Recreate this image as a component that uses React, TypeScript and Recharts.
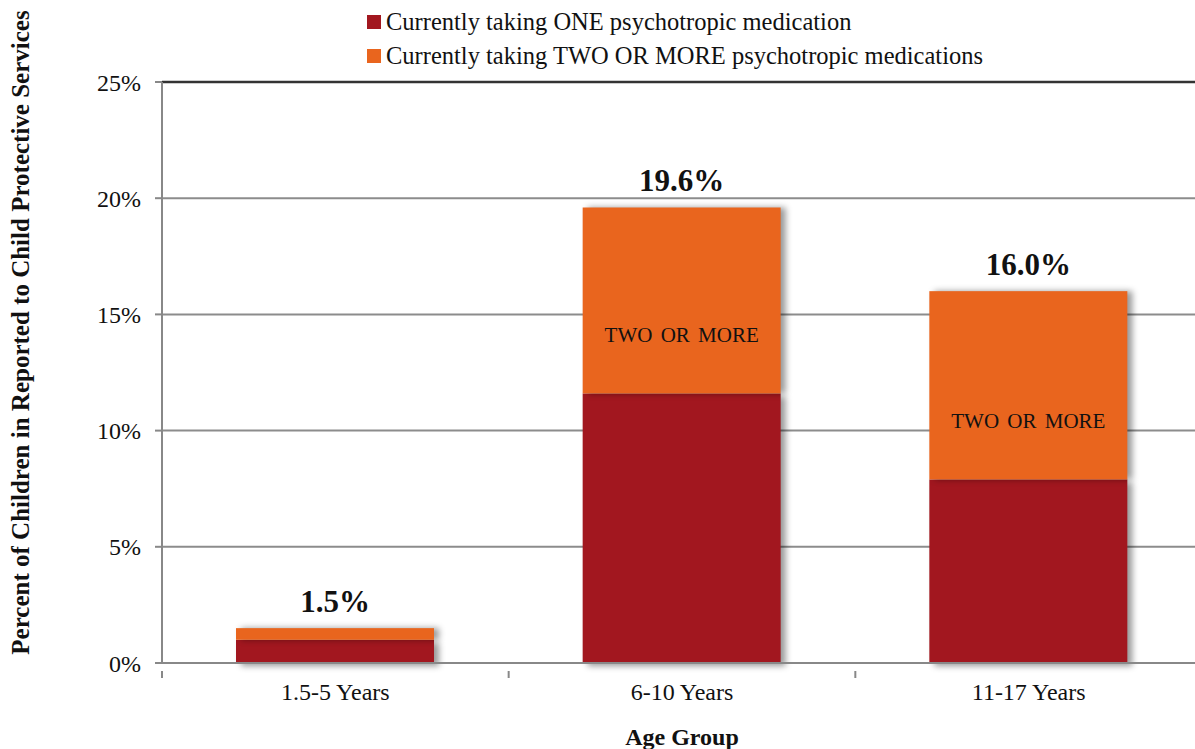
import React from "react";
import {
  Bar,
  BarChart,
  CartesianGrid,
  LabelList,
  Legend,
  ReferenceLine,
  XAxis,
  YAxis,
} from "recharts";

const ageGroups = ["1.5-5 Years", "6-10 Years", "11-17 Years"];
const oneMed = [1.0, 11.6, 7.9];
const twoPlusMed = [0.5, 8.0, 8.1];
const totals = [1.5, 19.6, 16.0];
const innerLabels = ["", "TWO OR MORE", "TWO OR MORE"];
const yTicks = [0, 5, 10, 15, 20, 25];

const seriesNames = [
  "Currently taking ONE psychotropic medication",
  "Currently taking TWO OR MORE psychotropic medications",
];

const RED = "#A2171F";
const ORANGE = "#E9651E";
const FONT = "'Liberation Serif', serif";

const data = ageGroups.map((g, i) => ({
  group: g,
  one: oneMed[i],
  two: twoPlusMed[i],
  total: totals[i],
  inner: innerLabels[i],
}));

const BAND = 1040 / 3;

const shadowShape = (fill: string, shadow: string) => (p: any) => (
  <rect
    x={p.x}
    y={p.y}
    width={p.width}
    height={p.height}
    fill={fill}
    style={{ filter: shadow }}
  />
);

const XTick = (p: any) => {
  const { x, y, payload, index } = p;
  return (
    <g>
      <line x1={x - BAND / 2} x2={x - BAND / 2} y1={y} y2={y + 7} stroke="#888" strokeWidth={2} />
      {index === ageGroups.length - 1 && (
        <line x1={x + BAND / 2} x2={x + BAND / 2} y1={y} y2={y + 7} stroke="#888" strokeWidth={2} />
      )}
      <text x={x} y={y + 29} textAnchor="middle" fontSize={24} fill="#111" fontFamily={FONT}>
        {payload.value}
      </text>
    </g>
  );
};

const InnerLabel = (p: any) => {
  const { x, y, width, height, value } = p;
  if (!value) return null;
  return (
    <text
      x={x + width / 2}
      y={y + height * 0.7}
      textAnchor="middle"
      dominantBaseline="middle"
      fontSize={21}
      fill="#111"
      fontFamily={FONT}
      style={{ wordSpacing: 3 }}
    >
      {value}
    </text>
  );
};

const LegendBox = () => (
  <div style={{ fontFamily: FONT, fontSize: 24.5, color: "#111", lineHeight: "34px" }}>
    {seriesNames.map((n, i) => (
      <div key={n} style={{ display: "flex", alignItems: "center", whiteSpace: "nowrap" }}>
        <span
          style={{
            display: "inline-block",
            width: 14,
            height: 14,
            background: i === 0 ? RED : ORANGE,
            marginRight: 5,
          }}
        />
        {n}
      </div>
    ))}
  </div>
);

export default function App() {
  return (
    <div style={{ position: "absolute", left: 0, top: 0, width: 1195, height: 749, overflow: "hidden", background: "#fff" }}>
      <BarChart
        width={1202}
        height={749}
        data={data}
        margin={{ top: 82, right: 0, bottom: 0, left: 0 }}
        barSize={198}
        style={{ fontFamily: FONT }}
      >
        <CartesianGrid vertical={false} stroke="#8c8c8c" strokeWidth={2} />
        <ReferenceLine y={25} stroke="#333" strokeWidth={2.5} />
        <XAxis
          dataKey="group"
          height={86}
          tickLine={false}
          axisLine={{ stroke: "#888", strokeWidth: 2 }}
          tick={<XTick />}
          interval={0}
          label={{
            value: "Age Group",
            position: "insideBottom",
            offset: 4,
            fontSize: 24,
            fontWeight: "bold",
            fill: "#111",
            fontFamily: FONT,
          }}
        />
        <YAxis
          width={162}
          domain={[0, 25]}
          ticks={yTicks}
          tickFormatter={(v) => `${v}%`}
          tickSize={7}
          tickMargin={14}
          tickLine={{ stroke: "#888", strokeWidth: 2 }}
          axisLine={{ stroke: "#888", strokeWidth: 2 }}
          tick={{ fontSize: 24, fill: "#111", fontFamily: FONT }}
          label={{
            value: "Percent of Children in Reported to Child Protective Services",
            angle: -90,
            position: "insideLeft",
            offset: 0,
            dx: 20,
            dy: -40,
            style: { textAnchor: "middle" },
            fontSize: 25,
            fontWeight: "bold",
            fill: "#111",
            fontFamily: FONT,
          }}
        />
        <Legend
          layout="vertical"
          align="center"
          verticalAlign="middle"
          wrapperStyle={{ left: 367, top: 5, width: "auto" }}
          content={<LegendBox />}
        />
        <Bar
          dataKey="one"
          stackId="a"
          fill={RED}
          isAnimationActive={false}
          shape={shadowShape(RED, "drop-shadow(5px 3px 3px rgba(0,0,0,0.4))")}
        />
        <Bar
          dataKey="two"
          stackId="a"
          fill={ORANGE}
          isAnimationActive={false}
          shape={shadowShape(ORANGE, "drop-shadow(5px 0px 3px rgba(0,0,0,0.4))")}
        >
          <LabelList dataKey="inner" content={<InnerLabel />} />
          <LabelList
            dataKey="total"
            position="top"
            offset={16}
            formatter={(v: any) => `${Number(v).toFixed(1)}%`}
            style={{ fontSize: 31, fontWeight: "bold", fill: "#111", fontFamily: FONT }}
          />
        </Bar>
      </BarChart>
    </div>
  );
}
